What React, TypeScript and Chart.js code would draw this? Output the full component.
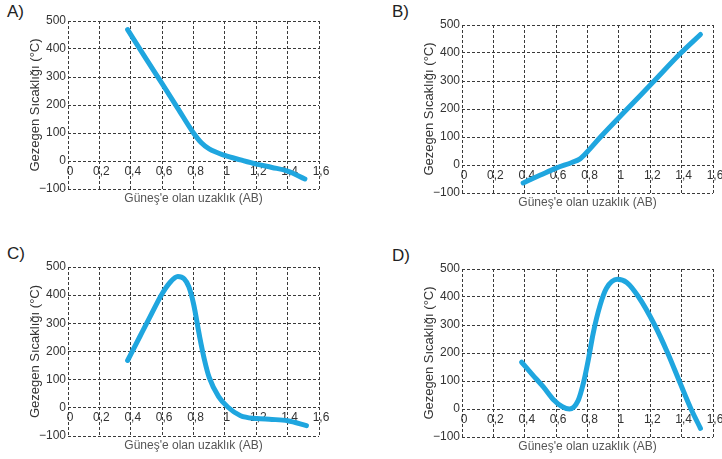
import React, { useEffect, useRef } from 'react';
import { Chart, registerables } from 'chart.js';

Chart.register(...registerables);

const FONT = "'Liberation Sans', Arial, Helvetica, sans-serif";
Chart.defaults.font.family = FONT;

// Axis definitions
const X_MIN = 0;
const X_MAX = 1.6;
const X_STEP = 0.2;
const Y_MIN = -100;
const Y_MAX = 500;
const Y_STEP = 100;

const xAxisTitle = "Güneş'e olan uzaklık (AB)";
const yAxisTitle = 'Gezegen Sıcaklığı (°C)';

// Panel A
const distA = [0.38, 0.5, 0.6, 0.7, 0.8, 0.85, 0.9, 1.0, 1.1, 1.2, 1.3, 1.4, 1.51];
const tempA = [469, 363, 276, 188, 100, 65, 43, 20, 4, -11, -23, -36, -64];

// Panel B
const distB = [0.39, 0.5, 0.6, 0.7, 0.75, 0.8, 0.88, 1.05, 1.22, 1.39, 1.52];
const tempB = [-64, -36, -11, 9, 21, 48, 98, 198, 297, 397, 466];

// Panel C
const distC = [0.38, 0.46, 0.52, 0.6, 0.65, 0.7, 0.74, 0.77, 0.8, 0.84, 0.87, 0.9, 0.96, 1.02, 1.1, 1.2, 1.3, 1.4, 1.52];
const tempC = [168, 255, 320, 405, 445, 466, 458, 430, 370, 250, 170, 108, 40, 2, -28, -38, -41, -46, -63];

// Panel D
const distD = [0.38, 0.45, 0.52, 0.58, 0.64, 0.685, 0.74, 0.775, 0.805, 0.836, 0.88, 0.92, 0.99, 1.05, 1.126, 1.228, 1.311, 1.385, 1.46, 1.52];
const tempD = [167, 122, 78, 35, 8, 0, 30, 95, 175, 270, 370, 430, 463, 452, 400, 300, 200, 100, 0, -69];

const CURVE = '#1fa6df';
const GRID = '#3a3a3a';
const TICK = '#333333';
const TITLE_X = '#555555';
const TITLE_Y = '#333333';

const fmtX = (v: number) => {
  const r = Math.round(v * 10) / 10;
  return String(r).replace('.', ',');
};
const fmtY = (v: number) => (v < 0 ? '\u2212' + Math.abs(v) : String(v));

type PanelProps = {
  label: string;
  xs: number[];
  ys: number[];
  left: number;
  top: number;
  width: number;
  height: number;
  padRight: number;
};

function Panel({ label, xs, ys, left, top, width, height, padRight }: PanelProps) {
  const ref = useRef<HTMLCanvasElement>(null);
  useEffect(() => {
    const ctx = ref.current!;
    const chart = new Chart(ctx, {
      type: 'line',
      data: {
        datasets: [
          {
            data: xs.map((x, i) => ({ x, y: ys[i] })),
            borderColor: CURVE,
            borderWidth: 5,
            pointRadius: 0,
            cubicInterpolationMode: 'monotone',
            borderCapStyle: 'round',
            borderJoinStyle: 'round',
            fill: false,
          },
        ],
      },
      options: {
        animation: false,
        responsive: false,
        maintainAspectRatio: false,
        devicePixelRatio: 1,
        layout: { padding: { top: 10, right: padRight, bottom: 0, left: 0 } },
        plugins: { legend: { display: false }, tooltip: { enabled: false }, title: { display: false } },
        scales: {
          x: {
            type: 'linear',
            position: { y: 0 } as any,
            min: X_MIN,
            max: X_MAX,
            grid: { color: GRID, lineWidth: 1, drawTicks: false },
            border: { display: false, dash: [3, 2] },
            ticks: {
              stepSize: X_STEP,
              maxRotation: 0,
              autoSkip: false,
              padding: 3,
              labelOffset: 2,
              color: TICK,
              font: { size: 12 },
              callback: (v: any) => fmtX(Number(v)),
            },
            afterFit: (s: any) => {
              s.paddingLeft = 0;
              s.paddingRight = 0;
            },
          },
          x2: {
            type: 'linear',
            position: 'bottom',
            min: X_MIN,
            max: X_MAX,
            grid: { display: false },
            border: { display: false },
            ticks: { display: false },
            title: {
              display: true,
              text: xAxisTitle,
              color: TITLE_X,
              font: { size: 12 },
              padding: { top: 0, bottom: 4 },
            },
            afterFit: (s: any) => {
              s.height = 21;
            },
          },
          y: {
            type: 'linear',
            position: 'left',
            min: Y_MIN,
            max: Y_MAX,
            grid: { color: GRID, lineWidth: 1, drawTicks: false },
            border: { display: false, dash: [3, 2] },
            ticks: {
              stepSize: Y_STEP,
              padding: 2,
              color: TICK,
              font: { size: 12 },
              callback: (v: any) => fmtY(Number(v)),
            },
            title: {
              display: true,
              text: yAxisTitle,
              color: TITLE_Y,
              font: { size: 13 },
              padding: { top: 2, bottom: 0 },
            },
            afterFit: (s: any) => {
              s.width = 42;
            },
          },
        },
      } as any,
    });
    return () => chart.destroy();
  }, [xs, ys, padRight]);

  return (
    <canvas
      ref={ref}
      width={width}
      height={height}
      style={{ position: 'absolute', left, top, width, height }}
      aria-label={label}
    />
  );
}

const labelStyle = (left: number, top: number): React.CSSProperties => ({
  position: 'absolute',
  left,
  top,
  fontFamily: FONT,
  fontSize: 17,
  lineHeight: '17px',
  color: '#222',
});

export default function App() {
  return (
    <div
      style={{
        position: 'absolute',
        left: 0,
        top: 0,
        width: 722,
        height: 459,
        background: '#fff',
        overflow: 'hidden',
      }}
    >
      <div style={labelStyle(7, 3)}>A)</div>
      <div style={labelStyle(392, 3)}>B)</div>
      <div style={labelStyle(7, 245)}>C)</div>
      <div style={labelStyle(392, 247)}>D)</div>
      <Panel label="A" xs={distA} ys={tempA} left={26} top={11} width={323} height={199} padRight={30} />
      <Panel label="B" xs={distB} ys={tempB} left={420} top={15} width={302} height={199} padRight={9} />
      <Panel label="C" xs={distC} ys={tempC} left={26} top={257} width={323} height={200} padRight={30} />
      <Panel label="D" xs={distD} ys={tempD} left={420} top={259} width={302} height={199} padRight={9} />
    </div>
  );
}
